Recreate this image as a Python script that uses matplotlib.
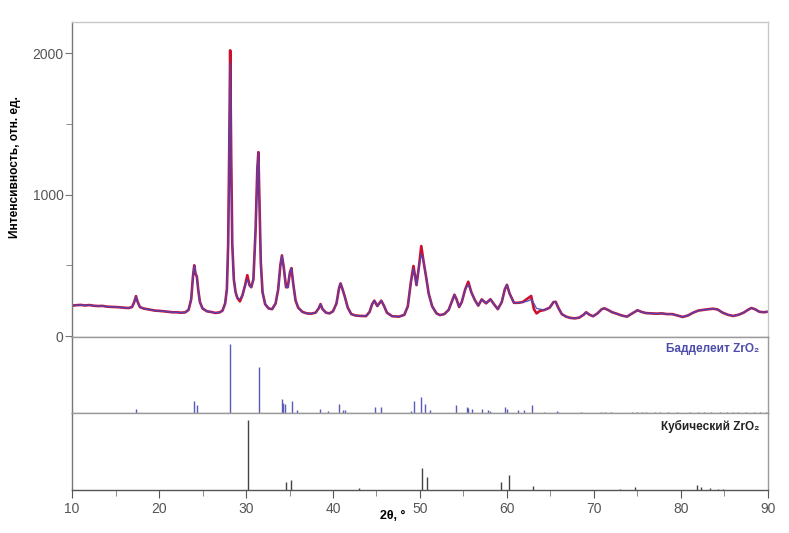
# XRD pattern of ZrO2 sample with reference stick patterns
import matplotlib
matplotlib.use('Agg')
import matplotlib.pyplot as plt
from matplotlib.ticker import MultipleLocator

plt.rcParams['font.family'] = ['Liberation Sans', 'DejaVu Sans']

# diffraction pattern (2theta, calculated intensity)
two_theta = [10.0, 10.5, 11.0, 11.5, 12.0, 12.5, 13.0, 13.5, 14.0, 14.5, 15.0, 15.5, 16.0, 16.5,
             16.9, 17.15, 17.35, 17.55, 17.8, 18.2, 18.8, 19.5, 20.0, 20.5, 21.0, 21.5, 22.0, 22.5,
             23.0, 23.4, 23.7, 23.9, 24.05, 24.2, 24.35, 24.5, 24.7, 25.0, 25.5, 26.0, 26.5, 27.0,
             27.3, 27.6, 27.8, 27.95, 28.07, 28.18, 28.3, 28.42, 28.6, 28.8, 29.0, 29.3, 29.6, 29.9,
             30.15, 30.4, 30.6, 30.85, 31.1, 31.3, 31.42, 31.55, 31.7, 31.9, 32.2, 32.6, 33.0, 33.4,
             33.7, 33.95, 34.13, 34.35, 34.6, 34.8, 35.05, 35.22, 35.45, 35.7, 36.0, 36.5, 37.0, 37.5,
             38.0, 38.35, 38.57, 38.8, 39.2, 39.6, 40.0, 40.4, 40.7, 40.87, 41.1, 41.35, 41.7, 42.1,
             42.6, 43.2, 43.8, 44.2, 44.5, 44.75, 45.1, 45.55, 45.85, 46.2, 46.8, 47.6, 48.2, 48.6,
             48.95, 49.25, 49.6, 49.9, 50.15, 50.4, 50.7, 51.0, 51.4, 51.9, 52.3, 52.8, 53.3, 53.7,
             53.96, 54.2, 54.5, 54.8, 55.2, 55.55, 55.9, 56.3, 56.7, 57.1, 57.6, 58.1, 58.5, 58.95,
             59.4, 59.75, 60.0, 60.3, 60.8, 61.3, 61.8, 62.3, 62.78, 63.1, 63.4, 63.8, 64.3, 64.9,
             65.35, 65.6, 65.9, 66.3, 66.8, 67.3, 67.8, 68.3, 68.8, 69.1, 69.5, 69.9, 70.4, 70.9,
             71.2, 71.6, 72.1, 72.6, 73.2, 73.8, 74.4, 75.0, 75.5, 76.0, 76.6, 77.2, 77.8, 78.4,
             79.0, 79.6, 80.2, 80.8, 81.4, 82.0, 82.6, 83.2, 83.7, 84.2, 84.8, 85.4, 86.0, 86.6,
             87.2, 87.7, 88.1, 88.5, 89.0, 89.5, 90.0]

calculated = [215, 218, 220, 216, 219, 214, 212, 213, 208, 206, 205, 203, 200, 198,
              205, 240, 282, 240, 205, 195, 188, 180, 178, 175, 172, 168, 168, 165,
              167, 185, 260, 420, 500, 440, 420, 330, 240, 195, 175, 170, 163, 168,
              180, 230, 330, 650, 1300, 1930, 1250, 650, 400, 310, 270, 260, 290, 360,
              400, 360, 345, 400, 750, 1180, 1300, 950, 520, 310, 225, 195, 190, 230,
              330, 500, 570, 480, 345, 345, 450, 480, 360, 250, 200, 170, 160, 158,
              165, 195, 226, 190, 165, 160, 175, 230, 340, 372, 330, 280, 200, 155,
              145, 142, 141, 170, 225, 250, 212, 250, 215, 165, 140, 137, 150, 210,
              380, 478, 360, 500, 580, 530, 420, 300, 210, 160, 148, 155, 185, 250,
              292, 260, 205, 240, 330, 365, 310, 255, 215, 259, 231, 260, 225, 190,
              240, 330, 362, 300, 235, 235, 240, 245, 258, 230, 195, 190, 184, 200,
              240, 242, 200, 155, 137, 128, 125, 130, 150, 168, 150, 140, 160, 190,
              196, 185, 168, 158, 145, 137, 160, 182, 170, 162, 160, 158, 160, 155,
              155, 145, 135, 145, 165, 180, 185, 190, 193, 188, 165, 150, 142, 150,
              165, 185, 198, 190, 172, 168, 172]

# places where the measured (red) curve departs from the calculated one
observed_diff = {28.18: 2020, 29.3: 245, 30.15: 430, 49.25: 495, 50.15: 636, 55.55: 384,
                 62.3: 262, 62.78: 283, 63.1: 190, 63.4: 160, 63.8: 178}

# baddeleyite ZrO2 reference lines (2theta, relative intensity)
badd_pos = [17.4, 24.0, 24.4, 28.17, 31.45, 34.1, 34.3, 34.45, 35.25, 35.9, 38.55, 39.4,
            40.7, 41.15, 41.35, 44.8, 45.55, 48.95, 49.28, 50.12, 50.58, 51.16, 54.1, 55.4,
            55.55, 55.95, 57.1, 57.8, 58.0, 59.8, 60.0, 61.3, 62.0, 62.9, 64.3, 65.7,
            65.9, 68.5, 70.8, 71.3, 72.0, 74.4, 74.9, 75.5, 76.0, 77.0, 77.6, 78.5, 79.5,
            81.0, 82.0, 82.6, 83.5, 84.5, 85.3, 86.0, 86.6, 87.5, 88.4, 89.1, 89.8]
badd_int = [6, 17, 12, 100, 67, 21, 14, 13, 17, 4, 6, 3,
            13, 5, 5, 8, 8, 3, 18, 23, 13, 5, 12, 8,
            7, 6, 6, 4, 3, 8, 6, 4, 4, 11, 2, 3,
            2, 1.5, 2, 1.5, 1.5, 1.5, 2, 1.5, 1.5, 1.5, 1.5, 1.5, 1.5,
            1.5, 1.5, 1.5, 1.5, 1.5, 1.5, 1.5, 1.5, 1.5, 2, 1.5, 2]

# cubic ZrO2 reference lines
cub_pos = [30.2, 34.6, 35.2, 42.95, 50.24, 50.77, 59.33, 60.2, 62.97, 72.95, 74.67,
           81.84, 82.3, 83.3, 84.3, 84.8]
cub_int = [100, 11, 14, 3, 31, 18, 12, 21, 6, 1.5, 4, 7, 4, 3, 2, 2]

observed = [observed_diff.get(t, c) for t, c in zip(two_theta, calculated)]

frame_col = '#9a9a9a'
label_col = '#555555'

fig = plt.figure(figsize=(7.89, 5.33), dpi=100)
ax1 = fig.add_axes([0.0913, 0.3677, 0.882, 0.591])
ax2 = fig.add_axes([0.0913, 0.2251, 0.882, 0.1426], sharex=ax1)
ax3 = fig.add_axes([0.0913, 0.0807, 0.882, 0.1445], sharex=ax1)

# top panel: measured and calculated patterns
ax1.plot(two_theta, observed, color='#cc1030', lw=1.9, solid_joinstyle='round')
ax1.plot(two_theta, calculated, color='#4848c0', lw=1.0, alpha=0.9)
ax1.set_ylim(-7, 2220)
ax1.set_xlim(10, 90)
ax1.yaxis.set_major_locator(MultipleLocator(1000))
ax1.yaxis.set_minor_locator(MultipleLocator(500))
ax1.tick_params(axis='y', which='major', length=5, color='#777777', labelcolor=label_col,
                labelsize=10, pad=1)
ax1.tick_params(axis='y', which='minor', length=4, color='#777777')
ax1.tick_params(axis='x', which='both', bottom=False, labelbottom=False)
ax1.set_ylabel('Интенсивность, отн. ед.', fontsize=8.6, fontweight='bold')
ax1.yaxis.set_label_coords(-0.074, 0.54)

# middle panel: baddeleyite sticks
ax2.vlines(badd_pos, 0, badd_int, color='#5a5ab8', lw=1.0)
ax2.set_ylim(0, 110)
ax2.set_yticks([])
ax2.tick_params(axis='x', which='both', bottom=False, labelbottom=False)
ax2.text(0.987, 0.84, 'Бадделеит ZrO₂', transform=ax2.transAxes, ha='right', va='center',
         color='#4c4caa', fontsize=8.5, fontweight='bold')

# bottom panel: cubic sticks
ax3.vlines(cub_pos, 0, cub_int, color='#444444', lw=1.0)
ax3.set_ylim(0, 110)
ax3.set_yticks([])
ax3.xaxis.set_major_locator(MultipleLocator(10))
ax3.xaxis.set_minor_locator(MultipleLocator(5))
ax3.tick_params(axis='x', which='major', length=6, color='#555555', labelcolor=label_col,
                labelsize=10, pad=3)
ax3.tick_params(axis='x', which='minor', length=4, color='#777777')
ax3.text(0.987, 0.82, 'Кубический ZrO₂', transform=ax3.transAxes, ha='right', va='center',
         color='#222222', fontsize=8.5, fontweight='bold')

for ax in (ax1, ax2, ax3):
    for side in ax.spines:
        ax.spines[side].set_color(frame_col)
        ax.spines[side].set_linewidth(1.0)
    ax.spines['left'].set_color('#777777')
ax1.spines['top'].set_color('#c8c8c8')
ax1.spines['right'].set_color('#c8c8c8')
ax3.spines['bottom'].set_color('#555555')

fig.text(393 / 789, 1 - 516 / 533, '2θ, °', ha='center', va='center', fontsize=9,
         fontweight='bold')

fig.savefig('out.png', dpi=100)
